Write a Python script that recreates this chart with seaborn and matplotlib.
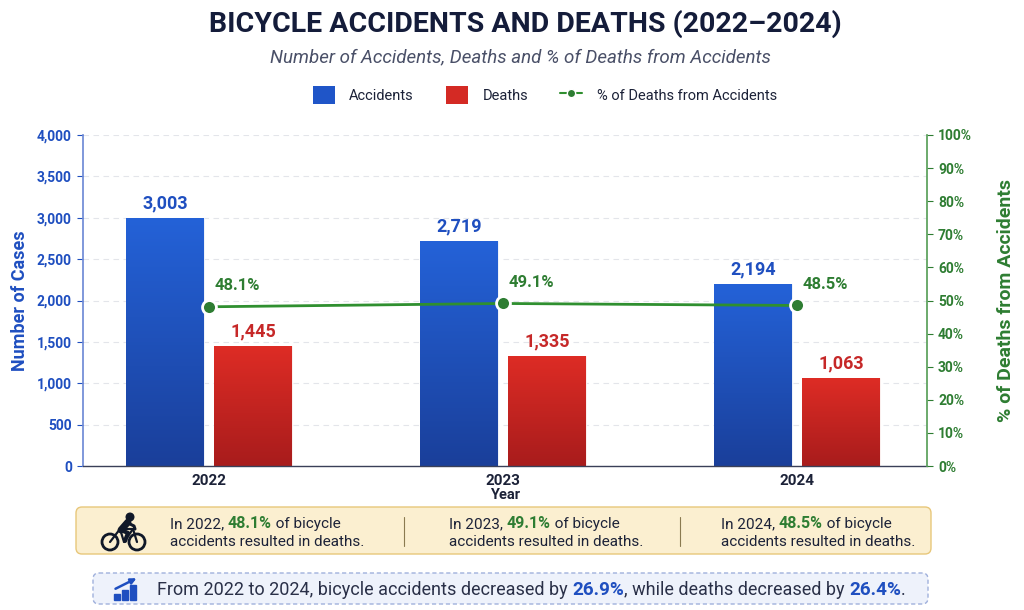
import numpy as np
import pandas as pd
import matplotlib
matplotlib.use('Agg')
import matplotlib.pyplot as plt
import seaborn as sns
from matplotlib.patches import FancyBboxPatch, Patch, Circle, Rectangle
from matplotlib.lines import Line2D
from matplotlib.colors import LinearSegmentedColormap

# 数据
years = ['2022', '2023', '2024']
accidents = [3003, 2719, 2194]
deaths = [1445, 1335, 1063]
pct_deaths = [48.1, 49.1, 48.5]
change_accidents = 26.9
change_deaths = 26.4

sns.set_theme(style='white')
plt.rcParams['font.family'] = ['Roboto', 'DejaVu Sans']
plt.rcParams['axes.unicode_minus'] = False

BLUE = '#1f4fc0'
RED = '#c62828'
GREEN = '#2e7d32'
DARK = '#1c2238'

df = pd.DataFrame({
    'year': years * 2,
    'value': accidents + deaths,
    'kind': ['Accidents'] * 3 + ['Deaths'] * 3,
})

fig = plt.figure(figsize=(10.24, 6.10), dpi=100)
fig.patch.set_facecolor('white')
ax = fig.add_axes([83 / 1024, 1 - 466 / 610, 844 / 1024, 331 / 610])

sns.barplot(data=df, x='year', y='value', hue='kind', order=years,
            palette={'Accidents': '#2160d6', 'Deaths': '#dc2a24'},
            width=0.6, gap=0.12, legend=False, ax=ax, zorder=2,
            edgecolor='white', linewidth=0.6)

# 渐变填充
grads = {
    0: LinearSegmentedColormap.from_list('b', ['#1a3f9a', '#2462d8']),
    1: LinearSegmentedColormap.from_list('r', ['#a81c1c', '#de2c25']),
}
grad = np.linspace(0, 1, 256).reshape(-1, 1)
for i, cont in enumerate(ax.containers):
    for bar in cont:
        x0, w, h = bar.get_x(), bar.get_width(), bar.get_height()
        im = ax.imshow(grad, extent=[x0, x0 + w, 0, h], origin='lower',
                       aspect='auto', cmap=grads[i], zorder=2.5)
        im.set_clip_path(bar)
    labels = [f'{v:,.0f}' for v in cont.datavalues]
    ax.bar_label(cont, labels=labels, padding=4, fontsize=13, fontweight='bold',
                 color=BLUE if i == 0 else RED, zorder=4)

ax.set_xlim(-0.429, 2.442)
ax.set_ylim(0, 4000)
ax.set_yticks(range(0, 4001, 500))
ax.yaxis.set_major_formatter(matplotlib.ticker.FuncFormatter(lambda v, p: f'{v:,.0f}'))
ax.yaxis.grid(True, linestyle=(0, (5, 4)), color='#e3e5ea', linewidth=0.8, zorder=0)
ax.set_axisbelow(True)
ax.tick_params(axis='y', colors=BLUE, labelsize=10, length=4, width=0.8, pad=4)
ax.tick_params(axis='x', colors=DARK, labelsize=11, length=0, pad=6)
for lab in ax.get_yticklabels():
    lab.set_fontweight('bold')
for lab in ax.get_xticklabels():
    lab.set_fontweight('bold')
ax.set_xlabel('Year', fontsize=10.5, fontweight='bold', color=DARK, labelpad=0)
ax.set_ylabel('Number of Cases', fontsize=13, fontweight='bold', color=BLUE, labelpad=6)
ax.spines['top'].set_visible(False)
ax.spines['right'].set_visible(False)
ax.spines['left'].set_color('#6f8bd6')
ax.spines['bottom'].set_color('#3a4058')
ax.spines['bottom'].set_linewidth(1.0)

# 右侧百分比轴
ax2 = ax.twinx()
sns.lineplot(x=[0, 1, 2], y=pct_deaths, ax=ax2, color='#2f8f2f', linewidth=2,
             marker='o', markersize=10, markerfacecolor='#2e7d32',
             markeredgecolor='white', markeredgewidth=2, zorder=5)
ax2.set_ylim(0, 100)
ax2.set_yticks(range(0, 101, 10))
ax2.yaxis.set_major_formatter(matplotlib.ticker.FuncFormatter(lambda v, p: f'{v:.0f}%'))
ax2.tick_params(axis='y', colors=GREEN, labelsize=10, length=4, width=0.8, pad=4)
for lab in ax2.get_yticklabels():
    lab.set_fontweight('bold')
ax2.set_ylabel('% of Deaths from Accidents', fontsize=14, fontweight='bold',
               color=GREEN, labelpad=18)
for s in ['top', 'left', 'bottom']:
    ax2.spines[s].set_visible(False)
ax2.spines['right'].set_color('#5aa05a')
for i, p in enumerate(pct_deaths):
    ax2.annotate(f'{p:.1f}%', (i, p), xytext=(4, 10), textcoords='offset points',
                 ha='left', va='bottom', fontsize=12, fontweight='bold', color=GREEN)

# 标题与图例
fig.text(0.513, 1 - 24 / 610, 'BICYCLE ACCIDENTS AND DEATHS (2022–2024)', ha='center',
         va='center', fontsize=20.5, fontweight='bold', color='#141c3a')
fig.text(0.508, 1 - 57 / 610, 'Number of Accidents, Deaths and % of Deaths from Accidents',
         ha='center', va='center', fontsize=13.5, style='italic', color='#4a5068')
handles = [
    Patch(facecolor='#1f55c8', edgecolor='none'),
    Patch(facecolor='#d42a24', edgecolor='none'),
    Line2D([0], [0], color='#2f8f2f', lw=1.5, marker='o', markersize=6,
           markerfacecolor='#2e7d32', markeredgecolor='white'),
]
fig.legend(handles, ['Accidents', 'Deaths', '% of Deaths from Accidents'], ncol=3,
           loc='center', bbox_to_anchor=(0.532, 1 - 95 / 610), frameon=False,
           fontsize=10.5, handlelength=1.5, handleheight=1.5, columnspacing=2.2,
           handletextpad=1.0, labelcolor='#1c2238')

# 底部说明框（像素坐标）
ov = fig.add_axes([0, 0, 1, 1], zorder=-1)
ov.set_xlim(0, 1024)
ov.set_ylim(610, 0)
ov.axis('off')
ov.add_patch(FancyBboxPatch((76, 507), 855, 47, boxstyle='round,pad=0,rounding_size=6',
                            facecolor='#fbefd0', edgecolor='#e8c77a', lw=1))
ov.add_patch(FancyBboxPatch((93, 573), 835, 31, boxstyle='round,pad=0,rounding_size=6',
                            facecolor='#eef2fb', edgecolor='#9fb0dc', lw=1, ls=(0, (3, 2))))
for xs in [404, 680]:
    ov.plot([xs, xs], [517, 546], color='#8a7a50', lw=0.8)

# 自行车图标
ic = '#101828'
for cx in [110, 137]:
    ov.add_patch(Circle((cx, 542), 8, fill=False, ec=ic, lw=2))
ov.plot([110, 120, 133, 137], [542, 529, 529, 542], color=ic, lw=1.6)
ov.plot([120, 124, 133], [529, 542, 529], color=ic, lw=1.6)
ov.add_patch(Circle((130, 517), 3.8, color=ic))
ov.plot([121, 128], [530, 522], color=ic, lw=5, solid_capstyle='round')
ov.plot([128, 134, 135], [523, 526, 529], color=ic, lw=2.2, solid_capstyle='round')
ov.plot([121, 128, 125], [530, 533, 541], color=ic, lw=3, solid_capstyle='round')

# 趋势图标
for bx, bh in zip([114, 122, 130], [6, 10, 15]):
    ov.add_patch(Rectangle((bx, 600 - bh), 6, bh, color=BLUE))
ov.annotate('', xy=(139, 577), xytext=(113, 590),
            arrowprops=dict(arrowstyle='-|>', color=BLUE, lw=1.8, mutation_scale=8))


def rich_line(x, y, parts):
    # 分段拼接不同颜色的文字
    t = None
    for txt, col, bold, sz in parts:
        kw = dict(fontsize=sz, color=col, fontweight='bold' if bold else 'normal')
        if t is None:
            t = ov.text(x, y, txt, ha='left', va='baseline', **kw)
        else:
            t = ov.annotate(txt, xy=(1, 0), xycoords=t, ha='left', va='bottom', **kw)
    return t


cols_x = [170, 449, 721]
for i, yr in enumerate(years):
    rich_line(cols_x[i], 528, [(f'In {yr}, ', DARK, False, 11),
                               (f'{pct_deaths[i]:.1f}%', GREEN, True, 11.5),
                               (' of bicycle', DARK, False, 11)])
    ov.text(cols_x[i], 546, 'accidents resulted in deaths.', fontsize=11, color=DARK,
            ha='left', va='baseline')

rich_line(157, 595, [('From 2022 to 2024, bicycle accidents decreased by ', '#2a3048', False, 13),
                     (f'{change_accidents:.1f}%', BLUE, True, 13.6),
                     (', while deaths decreased by ', '#2a3048', False, 13),
                     (f'{change_deaths:.1f}%', BLUE, True, 13.6),
                     ('.', '#2a3048', False, 13)])

plt.savefig('out.png', dpi=100)
